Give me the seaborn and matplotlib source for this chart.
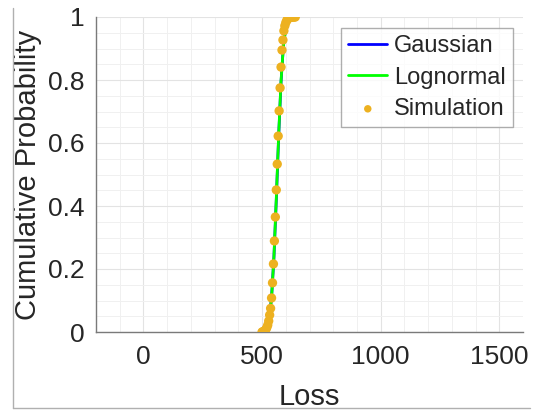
import matplotlib
matplotlib.use("Agg")
import matplotlib.pyplot as plt
from matplotlib.lines import Line2D
from matplotlib.ticker import MultipleLocator
import pandas as pd
import seaborn as sns

# Simulation points
sim_loss = [500, 504, 508, 512, 516, 520, 524, 528, 532, 536, 540, 544,
            548, 552, 556, 560, 564, 568, 572, 576, 580, 584, 588, 592,
            596, 600, 604, 608, 612, 616, 620, 624, 628, 632, 636, 640]
sim_prob = [0.0, 0.001, 0.002, 0.004, 0.008, 0.014, 0.022, 0.035, 0.054, 0.075,
            0.108, 0.156, 0.216, 0.289, 0.365, 0.451, 0.533, 0.622, 0.702, 0.775,
            0.841, 0.895, 0.927, 0.956, 0.972, 0.982, 0.989, 0.993, 0.996, 0.998,
            0.999, 1.0, 1.0, 1.0, 1.0, 1.0]

# Fitted CDF curves
fit_loss = [500, 510, 520, 530, 540, 550, 560, 570, 580, 590, 600, 610, 620, 630, 640]
gauss_cdf = [0.0005, 0.003, 0.012, 0.041, 0.109, 0.236, 0.419, 0.621, 0.794,
             0.908, 0.968, 0.991, 0.998, 1.0, 1.0]
logn_cdf = [0.0002, 0.002, 0.010, 0.038, 0.108, 0.238, 0.424, 0.626, 0.797,
            0.907, 0.966, 0.990, 0.997, 0.999, 1.0]

sim = pd.DataFrame({"Loss": sim_loss, "Prob": sim_prob})
fits = pd.DataFrame({"Loss": fit_loss, "Gaussian": gauss_cdf, "Lognormal": logn_cdf})

sns.set_style("white")
plt.rcParams["font.family"] = ["Liberation Sans", "DejaVu Sans"]
text_c = "#262626"

fig = plt.figure(figsize=(5.38, 4.12), dpi=100)
ax = fig.add_axes([96 / 538, 80 / 412, 427 / 538, 315 / 412])

sns.lineplot(data=fits, x="Loss", y="Gaussian", ax=ax, color="#0000ff",
             linewidth=2, label="Gaussian")
sns.lineplot(data=fits, x="Loss", y="Lognormal", ax=ax, color="#00ff00",
             linewidth=2, label="Lognormal")
sns.scatterplot(data=sim, x="Loss", y="Prob", ax=ax, color="#edb120", s=45,
                edgecolor="none", label="Simulation", zorder=3)

ax.set_xlim(-200, 1600)
ax.set_ylim(0, 1)
ax.set_xticks([0, 500, 1000, 1500])
ax.set_yticks([0, 0.2, 0.4, 0.6, 0.8, 1])
ax.set_yticklabels(["0", "0.2", "0.4", "0.6", "0.8", "1"])
ax.xaxis.set_minor_locator(MultipleLocator(100))
ax.yaxis.set_minor_locator(MultipleLocator(0.05))
ax.grid(True, which="major", color="#e3e3e3", linewidth=0.8)
ax.grid(True, which="minor", color="#f0f0f0", linewidth=0.7)
ax.set_axisbelow(True)

for s in ["top", "right"]:
    ax.spines[s].set_visible(False)
for s in ["left", "bottom"]:
    ax.spines[s].set_color("#7a7a7a")
    ax.spines[s].set_linewidth(1)

ax.tick_params(axis="both", which="major", direction="in", length=3,
               color="#7a7a7a", labelsize=19, labelcolor=text_c)
ax.tick_params(axis="x", pad=9)
ax.tick_params(axis="y", pad=8)
ax.tick_params(which="minor", length=0)

ax.set_xlabel("Loss", fontsize=21, color=text_c)
ax.set_ylabel("Cumulative Probability", fontsize=21, color=text_c)
ax.xaxis.set_label_coords(0.5, -0.205)
ax.yaxis.set_label_coords(-0.159, 0.5)
ax.xaxis.label.set_va("center")
ax.yaxis.label.set_va("center")

leg = ax.legend(loc="upper right", bbox_to_anchor=(0.977, 0.965), fontsize=17,
                frameon=True, fancybox=False, handlelength=1.65,
                handletextpad=0.3, borderpad=0.3, labelspacing=0.4,
                borderaxespad=0, markerscale=0.8)
leg.get_frame().set_edgecolor("#9a9a9a")
leg.get_frame().set_linewidth(1)
for t in leg.get_texts():
    t.set_color(text_c)

# outer frame of the original screenshot
fig.add_artist(Line2D([13 / 538, 13 / 538], [4 / 412, 404 / 412],
                      transform=fig.transFigure, color="#b0b0b0", linewidth=1))
fig.add_artist(Line2D([13 / 538, 530 / 538], [4 / 412, 4 / 412],
                      transform=fig.transFigure, color="#b0b0b0", linewidth=1))

fig.savefig("out.png", dpi=100)
